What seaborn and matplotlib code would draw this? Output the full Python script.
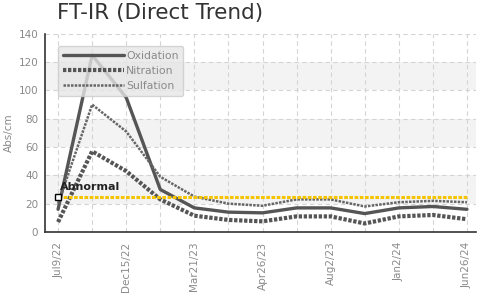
import matplotlib
matplotlib.use("Agg")
import matplotlib.pyplot as plt
import seaborn as sns
import pandas as pd
import numpy as np

# Values (13 samples, equally spaced)
sample_idx = list(range(13))
tick_labels = ["Jul9/22", "Dec15/22", "Mar21/23", "Apr26/23", "Aug2/23", "Jan2/24", "Jun26/24"]
oxidation = [16, 125, 95, 30, 17, 14, 13.5, 17, 17, 13, 17, 18, 16]
nitration = [7, 57, 43, 23, 11.5, 8.5, 7.5, 11, 11, 6, 11, 12, 9]
sulfation = [20, 90, 71, 39, 25, 20, 18.5, 23, 23, 18, 21, 22, 21]
abnormal_level = 25

sns.set_style("white")
plt.rcParams['font.family'] = ['DejaVu Sans']

fig = plt.figure(figsize=(4.8, 2.97), dpi=100)
ax = fig.add_axes([0.094, 0.219, 0.898, 0.667])

# Alternating light bands
for lo in (20, 60, 100):
    ax.axhspan(lo, lo + 20, color="#f3f3f3", zorder=0, lw=0)

df = pd.DataFrame({"idx": sample_idx, "Oxidation": oxidation,
                   "Nitration": nitration, "Sulfation": sulfation})

line_color = "#555555"
sns.lineplot(data=df, x="idx", y="Oxidation", ax=ax, color=line_color, lw=2.4,
             label="Oxidation", zorder=3)
sns.lineplot(data=df, x="idx", y="Nitration", ax=ax, color=line_color, lw=3.0,
             linestyle=(0, (0.8, 0.4)), label="Nitration", zorder=3)
sns.lineplot(data=df, x="idx", y="Sulfation", ax=ax, color="#666666", lw=1.8,
             linestyle=(0, (1.0, 0.5)), label="Sulfation", zorder=3)

# Abnormal limit
ax.plot([sample_idx[0], sample_idx[-1]], [abnormal_level, abnormal_level],
        color="#f5c400", lw=2.2, linestyle=(0, (1.2, 0.5)), zorder=4)
ax.plot([sample_idx[0]], [abnormal_level], marker="s", ms=5, mfc="white",
        mec="black", mew=1, zorder=5)
ax.text(sample_idx[0] + 0.05, abnormal_level + 3, "Abnormal", fontsize=8,
        fontweight="bold", color="#222222", va="bottom", ha="left", zorder=6)

ax.set_xlim(-0.38, 12.27)
ax.set_ylim(0, 140)
ax.set_yticks(range(0, 141, 20))
ax.set_xticks(sample_idx[::2])
ax.set_xticklabels(tick_labels, rotation=90)
ax.set_xticks(sample_idx[1::2], minor=True)

ax.grid(True, which="both", color="#d4d4d4", linestyle=(0, (4, 3)), lw=0.8)
ax.set_axisbelow(True)

for side in ("top", "right"):
    ax.spines[side].set_visible(False)
for side in ("left", "bottom"):
    ax.spines[side].set_color("#333333")
    ax.spines[side].set_linewidth(1.2)

ax.tick_params(axis="both", which="major", direction="inout", length=6,
               width=1.2, color="#333333", labelcolor="#8a8a8a", labelsize=7.5)
ax.tick_params(axis="y", which="major", pad=2)
ax.tick_params(axis="x", which="minor", direction="inout", length=5,
               width=1, color="#bbbbbb")
ax.tick_params(axis="x", which="major", pad=4)

ax.set_xlabel("")
ax.set_ylabel("Abs/cm", color="#8a8a8a", fontsize=7.5)
ax.yaxis.set_label_coords(-0.072, 0.5)

leg = ax.legend(loc="upper left", bbox_to_anchor=(0.018, 0.965), frameon=True,
                fontsize=7.8, handlelength=5.6, handletextpad=0.2,
                labelspacing=0.45, borderpad=0.45, fancybox=True)
leg.get_frame().set_facecolor("#e6e6e6")
leg.get_frame().set_edgecolor("#cccccc")
leg.get_frame().set_alpha(0.8)
for t in leg.get_texts():
    t.set_color("#8a8a8a")

fig.text(0.118, 0.99, "FT-IR (Direct Trend)", fontsize=15.5, color="#333333",
         va="top", ha="left")

fig.savefig("out.png", dpi=100)
